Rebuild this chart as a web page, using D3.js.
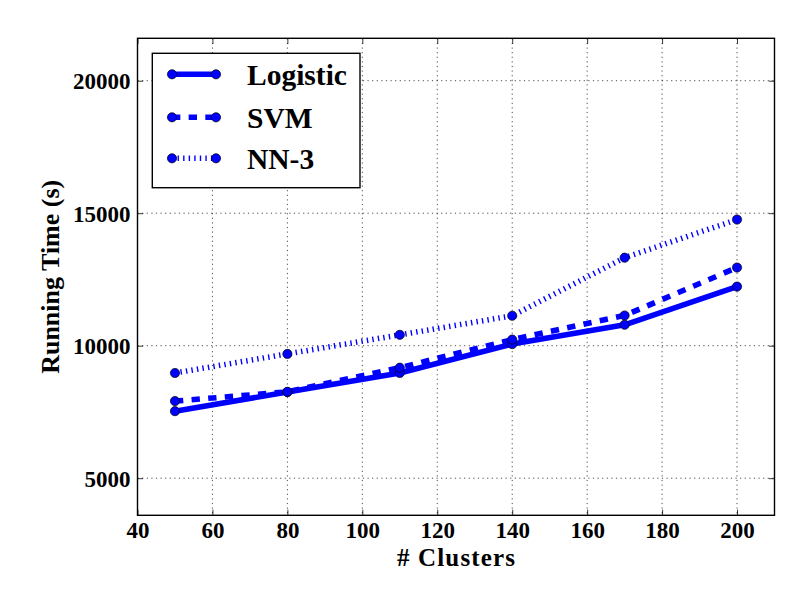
<!DOCTYPE html>
<html>
<head>
<meta charset="utf-8">
<script src="https://cdn.jsdelivr.net/npm/d3@7"></script>
<style>
  html, body { margin: 0; padding: 0; background: #fff; }
  svg { display: block; }
  text { font-family: "Liberation Serif", "Times New Roman", serif; font-weight: bold; fill: #000; }
</style>
</head>
<body>
<svg id="chart" width="812" height="612"></svg>
<script>
const clusters = [50, 80, 110, 140, 170, 200];
const logistic = [7530, 8250, 8970, 10060, 10790, 12230];
const svm      = [7910, 8260, 9170, 10230, 11140, 12950];
const nn3      = [8970, 9690, 10410, 11130, 13320, 14760];
const seriesNames = ["Logistic", "SVM", "NN-3"];
const xTicks = [40, 60, 80, 100, 120, 140, 160, 180, 200];
const yTicks = [5000, 10000, 15000, 20000];

const dashes = ["none", "8.33,8.33", "1.39,4.17"];
const series = [logistic, svm, nn3].map((vals, i) => ({
  name: seriesNames[i], dash: dashes[i],
  points: clusters.map((c, j) => ({ x: c, y: vals[j] }))
}));

const svg = d3.select("#chart");
const L = 137.5, R = 774.5, T = 38.3, B = 515.3;
const x = d3.scaleLinear().domain([40, 210]).range([L, R]);
const y = d3.scaleLinear().domain([3600, 21600]).range([B, T]);
const blue = "#0000ff";

// grid
const grid = svg.append("g");
grid.selectAll("line.gx").data(xTicks.slice(1)).enter().append("line")
  .attr("x1", d => x(d)).attr("x2", d => x(d)).attr("y1", T).attr("y2", B)
  .attr("stroke", "#000").attr("stroke-width", 0.7).attr("stroke-dasharray", "1.2,3.4");
grid.selectAll("line.gy").data(yTicks).enter().append("line")
  .attr("y1", d => y(d)).attr("y2", d => y(d)).attr("x1", L).attr("x2", R)
  .attr("stroke", "#000").attr("stroke-width", 0.7).attr("stroke-dasharray", "1.2,3.4");

// axes with inward ticks on all four sides
const tickLen = 5.6;
const axB = svg.append("g").attr("transform", `translate(0,${B})`)
  .call(d3.axisBottom(x).tickValues(xTicks).tickSizeInner(-tickLen).tickSizeOuter(0).tickPadding(6));
const axT = svg.append("g").attr("transform", `translate(0,${T})`)
  .call(d3.axisTop(x).tickValues(xTicks).tickSizeInner(-tickLen).tickSizeOuter(0).tickFormat(""));
const axL = svg.append("g").attr("transform", `translate(${L},0)`)
  .call(d3.axisLeft(y).tickValues(yTicks).tickSizeInner(-tickLen).tickSizeOuter(0).tickPadding(7).tickFormat(d3.format("d")));
const axR = svg.append("g").attr("transform", `translate(${R},0)`)
  .call(d3.axisRight(y).tickValues(yTicks).tickSizeInner(-tickLen).tickSizeOuter(0).tickFormat(""));
[axB, axT, axL, axR].forEach(a => {
  a.select(".domain").remove();
  a.selectAll(".tick line").attr("stroke", "#000").attr("stroke-width", 0.8);
  a.selectAll(".tick text").style("font-family", '"Liberation Serif", serif')
    .style("font-weight", "bold").style("font-size", "23px").attr("fill", "#000");
});
axB.selectAll(".tick text").attr("dy", "0.71em");
axL.selectAll(".tick text").attr("dy", "0.34em");

// lines
const line = d3.line().x(d => x(d.x)).y(d => y(d.y));
const gS = svg.append("g");
series.forEach(s => {
  gS.append("path").datum(s.points).attr("d", line)
    .attr("fill", "none").attr("stroke", blue).attr("stroke-width", 5.56)
    .attr("stroke-dasharray", s.dash).attr("stroke-linejoin", "round");
});
series.forEach(s => {
  gS.selectAll(null).data(s.points).enter().append("circle")
    .attr("cx", d => x(d.x)).attr("cy", d => y(d.y)).attr("r", 4.6)
    .attr("fill", blue).attr("stroke", "#000").attr("stroke-width", 0.7);
});

// frame
svg.append("rect").attr("x", L).attr("y", T).attr("width", R - L).attr("height", B - T)
  .attr("fill", "none").attr("stroke", "#000").attr("stroke-width", 1.4);

// axis titles
svg.append("text").attr("x", (L + R) / 2).attr("y", 566).attr("text-anchor", "middle")
  .style("font-size", "25px").attr("textLength", 118).attr("lengthAdjust", "spacing").text("# Clusters");
svg.append("text").attr("transform", `translate(59,${(T + B) / 2}) rotate(-90)`)
  .attr("text-anchor", "middle").style("font-size", "26px").text("Running Time (s)");

// legend
const leg = svg.append("g");
leg.append("rect").attr("x", 152.3).attr("y", 53.3).attr("width", 207.7).attr("height", 134.4)
  .attr("fill", "#fff").attr("stroke", "#000").attr("stroke-width", 1.4);
const rowsY = [74.3, 117.3, 158.3];
series.forEach((s, i) => {
  const g = leg.append("g");
  g.append("line").attr("x1", 172).attr("x2", 216).attr("y1", rowsY[i]).attr("y2", rowsY[i])
    .attr("stroke", blue).attr("stroke-width", 5.56).attr("stroke-dasharray", s.dash);
  [172, 216].forEach(cx => g.append("circle").attr("cx", cx).attr("cy", rowsY[i]).attr("r", 4.6)
    .attr("fill", blue).attr("stroke", "#000").attr("stroke-width", 0.7));
  g.append("text").attr("x", 247).attr("y", rowsY[i] + 10.5).style("font-size", "29.5px").text(s.name);
});
</script>
</body>
</html>
